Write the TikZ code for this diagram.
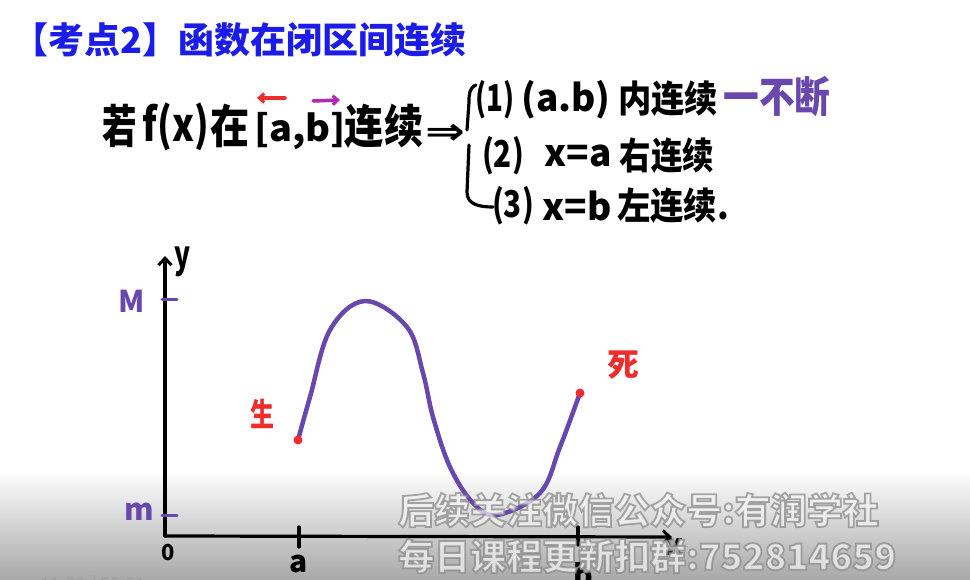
\documentclass[tikz,border=0pt]{standalone}
\usepackage{fontspec}
\usepackage{graphicx}
\setmainfont{Noto Sans CJK SC}
\newfontfamily\cjk{Noto Sans CJK SC}
\newfontfamily\dejavu{DejaVu Sans}
\usetikzlibrary{arrows.meta}
\definecolor{titleblue}{RGB}{28,28,232}
\definecolor{penpurple}{RGB}{104,72,172}
\definecolor{penred}{RGB}{238,44,44}
\definecolor{penmagenta}{RGB}{178,40,178}
\definecolor{wmfill}{RGB}{244,244,244}
\definecolor{bandgray}{RGB}{168,168,168}
\newcommand\wmoutline[1]{\special{pdf:literal direct 2 Tr 1.8 w 0.52 0.52 0.52 RG}#1\special{pdf:literal direct 0 Tr}}
\begin{document}
\begin{tikzpicture}[x=1pt,y=-1pt,
  hand/.style={font=\cjk\bfseries\fontsize{46}{46}\selectfont, inner sep=0pt},
  item/.style={font=\cjk\bfseries\fontsize{37}{37}\selectfont, inner sep=0pt},
  axlab/.style={font=\cjk\bfseries\fontsize{30}{30}\selectfont, inner sep=0pt},
  purplab/.style={axlab, text=penpurple},
  redlab/.style={font=\cjk\bfseries\fontsize{32}{32}\selectfont, inner sep=0pt, text=penred},
  penline/.style={line width=3.2pt, line cap=round, line join=round},
  axisline/.style={penline, -{Straight Barb[length=7pt,width=13pt,line width=3pt]}},
  tickp/.style={line width=3pt, penpurple, line cap=round},
  tickk/.style={line width=3.2pt, black, line cap=round},
  curvestyle/.style={line width=4.5pt, penpurple, line cap=round, line join=round},
  wm/.style={font=\cjk\bfseries\fontsize{36}{36}\selectfont, inner sep=0pt, text=wmfill, text opacity=0.7},
]
\useasboundingbox (0,0) rectangle (970,580);
\fill[white] (0,0) rectangle (970,580);
\shade[top color=white, bottom color=bandgray] (0,470) rectangle (970,580);

% title
\node[anchor=west, inner sep=0pt, text=titleblue, font=\cjk\bfseries\fontsize{36}{36}\selectfont] (title) at (12,40) {【考点2】函数在闭区间连续};

% main line
\node[hand] (ruo) at (120,126) {\scalebox{0.75}[1]{若}};
\node[hand] (fx) at (176,127) {\scalebox{0.8}[1]{f(x)}};
\node[hand] (zai) at (230,126) {\scalebox{0.85}[1]{在}};
\node[font=\cjk\bfseries\fontsize{40}{40}\selectfont, inner sep=0pt] (ab) at (300,131) {\scalebox{0.95}[0.9]{[a,b]}};
\node[hand] (lx1) at (384,126) {\scalebox{0.85}[1]{连续}};
\node[inner sep=0pt, font=\dejavu\bfseries\fontsize{50}{50}\selectfont] (impl) at (445,134) {\scalebox{0.95}[0.75]{⇒}};
\coordinate (rA) at (285,98);
\coordinate (rB) at (257,98);
\coordinate (mA) at (313,101);
\coordinate (mB) at (340,100);
\draw[line width=3.5pt, penred, line cap=round, -{Straight Barb[length=5pt,width=9pt,line width=3pt]}] (rA) -- (rB);
\draw[line width=3.5pt, penmagenta, line cap=round, -{Straight Barb[length=5pt,width=9pt,line width=3pt]}] (mA) -- (mB);

% brace
\draw[penline] (476,85) .. controls (469,88) and (469,95) .. (469,102) -- (467,130);
\draw[penline] (469,145) -- (467,192) .. controls (467,204) and (478,207) .. (493,207);

% items
\node[item] (n1) at (495,100) {\scalebox{0.75}[1]{(1)}};
\node[item] (ab1) at (566,100) {(a.b)};
\node[item] (lx2) at (668,99) {\scalebox{0.9}[1]{内连续}};
\node[font=\cjk\bfseries\fontsize{42}{42}\selectfont, inner sep=0pt, text=penpurple] (bd) at (777,97) {\scalebox{0.85}[1]{一不断}};
\node[item] (n2) at (503,156) {\scalebox{0.8}[1]{(2)}};
\node[item] (xa) at (578,156) {x=a};
\node[item] (lx3) at (667,156) {\scalebox{0.85}[1]{右连续}};
\node[item] (n3) at (513,206) {\scalebox{0.8}[1]{(3)}};
\node[item] (xb) at (577,206) {x=b};
\node[item] (lx4) at (673,206) {\scalebox{0.9}[1]{左连续.}};

% axes
\coordinate (O) at (165,536);
\coordinate (ytip) at (165,256);
\coordinate (xtip) at (672,537);
\draw[axisline] (O) -- (ytip);
\draw[axisline] (O) -- (xtip);
\node[font=\cjk\bfseries\fontsize{38}{38}\selectfont, inner sep=0pt] (ylab) at (183,262) {\scalebox{0.7}[1]{y}};
\node[axlab] (xlab) at (674,547) {x};
\node[font=\cjk\bfseries\fontsize{22}{22}\selectfont, inner sep=0pt] (zero) at (168,553) {0};

\draw[tickp] (162,300) -- (177,300);
\draw[tickp] (162,515) -- (177,515);
\node[purplab] (Mlab) at (132,301) {M};
\node[purplab] (mlab) at (139,512) {m};

\draw[tickk] (299,527) -- (299,547);
\draw[tickk] (578,527) -- (578,545);
\node[axlab] (alab) at (299,564) {a};
\node[axlab] (blab) at (583,575) {b};

% curve
\coordinate (S) at (298,440);
\coordinate (E) at (580,393);
\draw[curvestyle] plot[smooth, tension=0.6] coordinates {(298,440) (310,397) (330,330) (365,301) (407,327) (423,373) (433,417) (450,467) (473,503) (497,515) (540,493) (560,447) (580,393)};
\fill[penred] (S) circle (4.5pt);
\fill[penred] (E) circle (4.5pt);
\node[redlab] (sheng) at (262,414) {\scalebox{0.75}[1]{生}};
\node[redlab] (si) at (623,365) {死};

% watermark
\node[wm, anchor=west] (wm1) at (398,510) {\wmoutline{后续关注微信公众号:有润学社}};
\node[wm, anchor=west] (wm2) at (398,556) {\wmoutline{每日课程更新扣群:752814659}};

\begin{scope}
\clip (0,560) rectangle (970,580);
\node[font=\cjk\fontsize{18}{18}\selectfont, text=gray!75, anchor=west, inner sep=0pt] (time) at (40,585) {11:30 / 50:01};
\end{scope}
\end{tikzpicture}
\end{document}
